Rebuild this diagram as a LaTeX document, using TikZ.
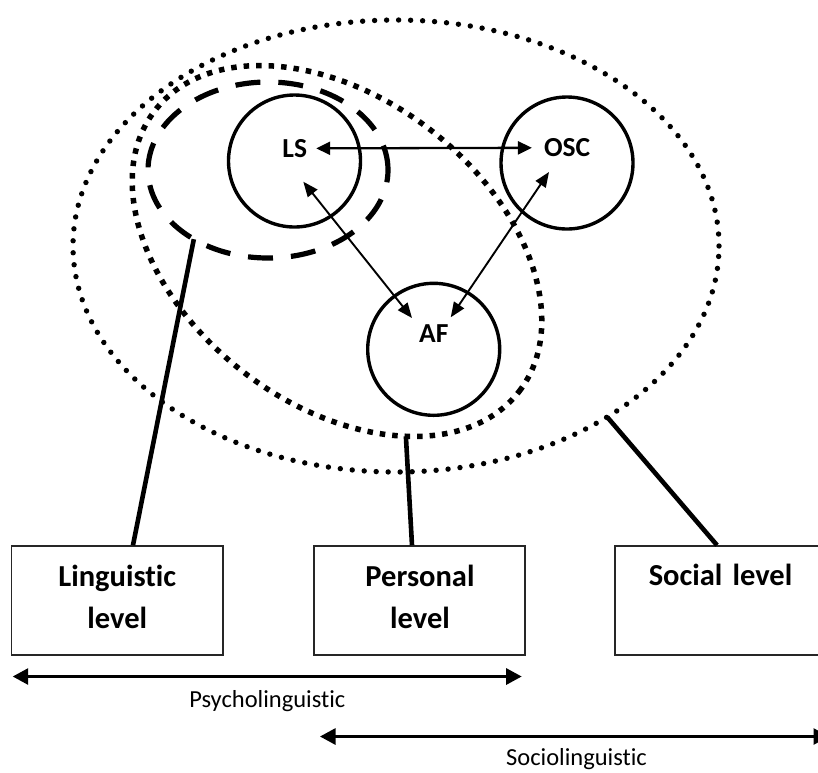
\documentclass[tikz,border=0pt]{standalone}
\usepackage{fontspec}
\setmainfont{Carlito}[Ligatures=NoCommon]
\usetikzlibrary{arrows.meta,shapes.geometric}

\begin{document}
\begin{tikzpicture}[x=1pt,y=-1pt,
  % the three units of the model
  unit/.style={circle, draw, line width=3.4pt, minimum size=132pt, inner sep=0pt, outer sep=0pt},
  unitlabel/.style={font=\fontsize{27.5}{32}\selectfont\bfseries, inner sep=0pt, anchor=base},
  % the three zones
  outerzone/.style={ellipse, draw, line width=5.4pt, dash pattern=on 0pt off 12pt, line cap=round, inner sep=0pt, outer sep=0pt},
  personalzone/.style={ellipse, draw, line width=5.5pt, dash pattern=on 5.5pt off 7pt, inner sep=0pt, outer sep=0pt},
  linguzone/.style={ellipse, draw, line width=5.2pt, dash pattern=on 25pt off 18pt, inner sep=0pt, outer sep=0pt},
  % level boxes
  levelbox/.style={rectangle, draw=black!85, line width=1.6pt, minimum width=211.5pt, minimum height=109pt, inner sep=0pt},
  leveltext/.style={font=\fontsize{30.5}{42.3}\selectfont\bfseries, text width=210pt, align=center, inner sep=0pt, anchor=base},
  link/.style={line width=4.6pt},
  hrel/.style={line width=2.3pt, {Triangle[length=14pt,width=13pt]}-{Triangle[length=14pt,width=13pt]}},
  relation/.style={line width=1.9pt, {Triangle[length=15pt,width=12pt]}-{Triangle[length=15pt,width=12pt]}},
  span/.style={line width=2.8pt, {Triangle[length=15.5pt,width=16pt]}-{Triangle[length=15.5pt,width=16pt]}},
  spantext/.style={font=\fontsize{24.5}{29}\selectfont, inner sep=0pt, anchor=base}
]
\fill[white] (0,0) rectangle (818,772);
\useasboundingbox (0,0) rectangle (818,772);

% zones
\node[outerzone, minimum width=646pt, minimum height=452pt] (social) at (396,246) {};
\node[personalzone, rotate=-37.6, minimum width=460pt, minimum height=306pt] (personal) at (337,251) {};
\node[linguzone, minimum width=240pt, minimum height=176pt] (lingu) at (268,170) {};

% units
\node[unit] (LSc) at (294.5,161) {};
\node[unit] (OSCc) at (567,163) {};
\node[unit] (AFc) at (433.7,349.3) {};
\node[unitlabel] (LS) at (294.7,157.3) {LS};
\node[unitlabel] (OSC) at (567.2,156.7) {OSC};
\node[unitlabel] (AF) at (433.8,342.7) {AF};

% relations between units
\draw[hrel, shorten <=9pt, shorten >=12pt] (LS.east) -- (OSC.west);
\draw[relation] ([shift={(8.6,24.4)}]LS.base) -- ([shift={(-21.8,-24.7)}]AF.base);
\draw[relation] ([shift={(-18.2,15.3)}]OSC.base) -- ([shift={(16.9,-25.4)}]AF.base);

% level boxes
\node[levelbox] (lingbox) at (117.25,600.5) {};
\node[levelbox] (persbox) at (419.5,600.5) {};
\node[levelbox] (socbox) at (720.75,600.5) {};
\node[leveltext] (lingtext) at (117.3,586) {Linguistic\\level};
\node[leveltext] (perstext) at (420,586) {Personal\\level};
\node[leveltext] (soctext) at (720.5,585) {Social level};

% zones to levels
\draw[link] (lingu.223.4) -- ([xshift=15.75pt]lingbox.north);
\draw[link] (personal.-32.9) -- ([xshift=-7.5pt]persbox.north);
\draw[link] (social.-39.3) -- ([xshift=-3.75pt]socbox.north);

% spans
\coordinate (psyL) at (12.7,676.5);
\coordinate (psyR) at (521.7,676.5);
\draw[span] (psyL) -- (psyR);
\node[spantext] (psytext) at (267.3,707.3) {Psycholinguistic};
\coordinate (socL) at (320,736.5);
\coordinate (socR) at (829,736.5);
\draw[span] (socL) -- (socR);
\node[spantext] (sociotext) at (576.5,765.5) {Sociolinguistic};
\end{tikzpicture}
\end{document}
